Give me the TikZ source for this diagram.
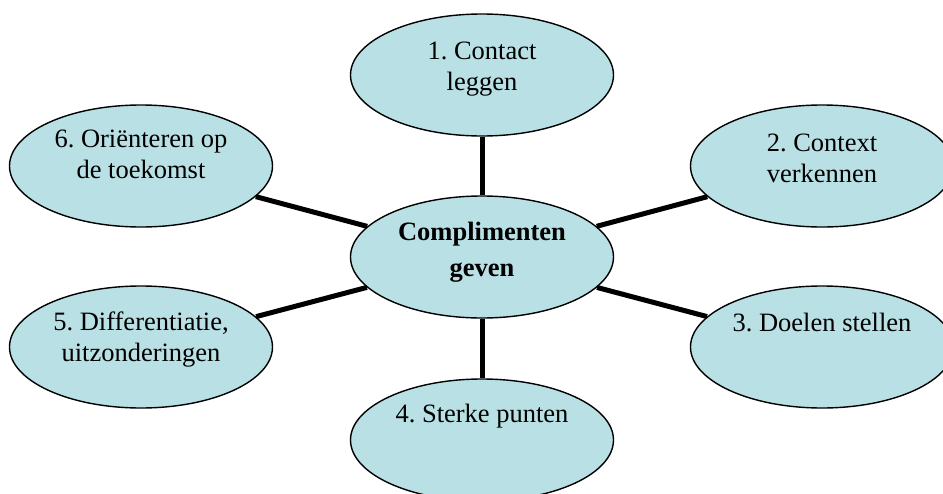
\documentclass[tikz,border=0pt]{standalone}
\usepackage{fontspec}
\setmainfont{Liberation Serif}
\usetikzlibrary{shapes.geometric}
\definecolor{bubfill}{RGB}{185,224,228}
\frenchspacing
\tikzset{
  bub/.style={ellipse, draw=black, line width=1.4pt, fill=bubfill,
    minimum width=263pt, minimum height=122pt, inner sep=0pt},
  lbl/.style={align=center, inner sep=0pt, anchor=base,
    font=\fontsize{26.5}{31}\selectfont\frenchspacing},
  lblb/.style={align=center, inner sep=0pt, anchor=base,
    font=\fontsize{26.5}{36}\selectfont\bfseries\frenchspacing},
  spoke/.style={line width=5pt, black}
}
\begin{document}
\begin{tikzpicture}[x=1pt,y=-1pt]
\useasboundingbox (0,0) rectangle (943,493);
\node[bub] (e0) at (482,257) {};
\node[bub] (e1) at (482,75) {};
\node[bub] (e2) at (822,166) {};
\node[bub] (e3) at (822,347) {};
\node[bub] (e4) at (482,440) {};
\node[bub] (e5) at (141,347) {};
\node[bub] (e6) at (141,166) {};
\draw[spoke] (e0) -- (e1);
\draw[spoke] (e0) -- (e2);
\draw[spoke] (e0) -- (e3);
\draw[spoke] (e0) -- (e4);
\draw[spoke] (e0) -- (e5);
\draw[spoke] (e0) -- (e6);
\node[lblb] (t0) at (482,276.5) {Complimenten\\geven};
\node[lbl] (t1) at (482,90) {1. Contact\\leggen};
\node[lbl] (t2) at (822,182) {2. Context\\verkennen};
\node[lbl] (t3) at (822,331) {3. Doelen stellen};
\node[lbl] (t4) at (482,422) {4. Sterke punten};
\node[lbl] (t5) at (141,361) {5. Differentiatie,\\uitzonderingen};
\node[lbl] (t6) at (141,178) {6. Oriënteren op\\de toekomst};
\end{tikzpicture}
\end{document}
